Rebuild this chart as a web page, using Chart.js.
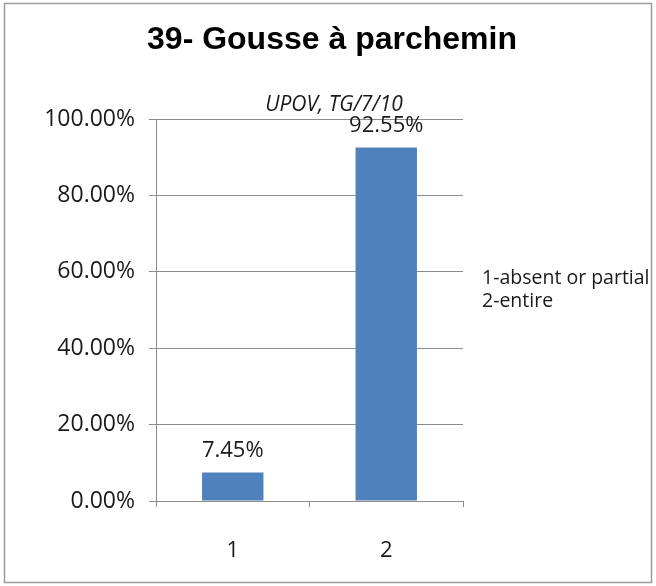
<!DOCTYPE html>
<html>
<head>
<meta charset="utf-8">
<script src="https://cdn.jsdelivr.net/npm/chart.js@4"></script>
<style>
  html, body { margin: 0; padding: 0; background: #fff; }
  #wrap { width: 656px; height: 586px; }
</style>
</head>
<body>
<div id="wrap"><canvas id="myChart" width="656" height="586"></canvas></div>
<script>
// data
const categories = ["1", "2"];
const shares = [0.0745, 0.9255];
const yTicks = [0, 0.2, 0.4, 0.6, 0.8, 1.0];
const legendLines = ["1-absent or partial", "2-entire"];
const titleText = "39- Gousse à parchemin";
const subTitleText = "UPOV, TG/7/10";

const tickFont = "'Open Sans', sans-serif";
const gridGray = "#8c8c8c";

// frame, title, labels over bars and the right-hand key
const extras = {
  id: "extras",
  afterDraw(chart) {
    const ctx = chart.ctx;
    ctx.save();
    ctx.strokeStyle = "#9a9a9a";
    ctx.lineWidth = 1.5;
    ctx.strokeRect(4.5, 3.5, 647, 579);

    ctx.fillStyle = "#000";
    ctx.textAlign = "center";
    ctx.textBaseline = "alphabetic";
    ctx.font = "bold 32px 'Liberation Sans', Arial, sans-serif";
    ctx.fillText(titleText, 332, 49);

    ctx.textBaseline = "middle";
    ctx.fillStyle = "#1a1a1a";
    ctx.font = "italic 21px " + tickFont;
    ctx.fillText(subTitleText, 334, 105);

    // value labels
    ctx.font = "22px " + tickFont;
    const meta = chart.getDatasetMeta(0);
    meta.data.forEach((bar, i) => {
      ctx.fillText((shares[i] * 100).toFixed(2) + "%", bar.x, bar.y - 22);
    });

    // key
    ctx.textAlign = "left";
    ctx.font = "19.5px " + tickFont;
    legendLines.forEach((t, i) => ctx.fillText(t, 482, 278 + i * 23));
    ctx.restore();
  }
};

const ctx = document.getElementById("myChart").getContext("2d");
const myChart = new Chart(ctx, {
  type: "bar",
  data: {
    labels: categories,
    datasets: [
      {
        data: shares,
        backgroundColor: "#4f81bd",
        borderWidth: 0,
        barPercentage: 0.4,
        categoryPercentage: 1.0
      }
    ]
  },
  options: {
    responsive: false,
    animation: false,
    layout: { padding: { left: 0, right: 193, top: 119, bottom: 0 } },
    plugins: {
      legend: { display: false },
      tooltip: { enabled: false }
    },
    scales: {
      x: {
        grid: {
          offset: true,
          drawOnChartArea: false,
          color: gridGray,
          tickLength: 6
        },
        border: { color: gridGray },
        ticks: {
          color: "#1a1a1a",
          padding: 31,
          font: { family: tickFont, size: 22 }
        },
        afterFit(s) { s.height = 85; }
      },
      y: {
        min: 0,
        max: 1,
        afterBuildTicks(s) { s.ticks = yTicks.map(v => ({ value: v })); },
        grid: { color: gridGray, tickLength: 7 },
        border: { color: gridGray },
        ticks: {
          color: "#1a1a1a",
          padding: 14,
          font: { family: tickFont, size: 23 },
          callback: v => (v * 100).toFixed(2) + "%"
        },
        afterFit(s) { s.width = 156; }
      }
    }
  },
  plugins: [extras]
});
</script>
</body>
</html>
